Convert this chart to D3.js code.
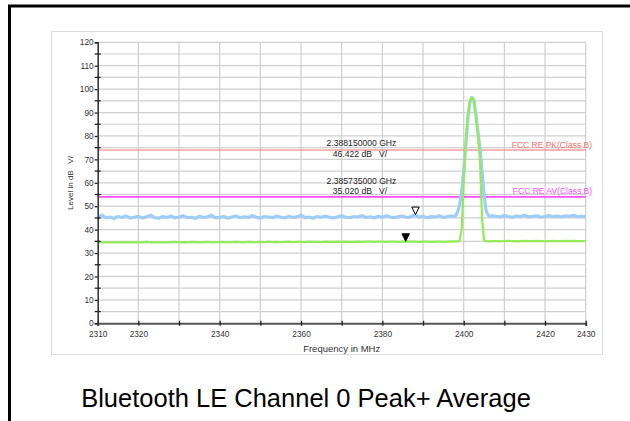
<!DOCTYPE html>
<html><head><meta charset="utf-8">
<script src="https://cdn.jsdelivr.net/npm/d3@7"></script>
<style>
html,body{margin:0;padding:0;background:#fff;}
svg{display:block;font-family:Arial,"Liberation Sans",sans-serif;}
text{white-space:pre;}
</style></head>
<body><svg id="c" width="630" height="421"></svg>
<script>
// ---- data ----
const freqLow = d3.range(2310, 2397.5, 1);          // 2310..2397 MHz
const freqPeak = d3.range(2397.5, 2407.5, 0.5);     // 2397.5..2407 MHz
const freqHigh = d3.range(2408, 2431, 1);           // 2408..2430 MHz
const freqs = freqLow.concat(freqPeak, freqHigh);

const peakValues = [
 45.1,46.2,45.0,45.4,44.8,45.6,45.2,45.9,44.9,45.3,
 45.7,45.0,45.5,46.2,45.1,44.9,45.6,45.2,45.8,45.0,
 45.4,45.9,45.1,45.3,44.8,45.7,45.2,45.5,46.1,45.0,
 45.3,45.6,44.9,45.4,45.8,45.1,45.5,45.2,46.0,45.3,
 44.9,45.6,45.4,45.1,45.8,45.3,45.0,45.7,45.2,45.5,
 46.2,45.1,45.4,44.9,45.6,45.3,45.8,45.2,45.0,45.5,
 45.9,45.3,45.1,45.6,45.4,46.0,45.2,45.5,45.0,45.7,
 45.3,45.9,45.4,45.1,45.6,45.8,45.2,45.5,46.4,45.3,
 45.7,45.1,45.6,45.4,45.9,45.2,45.6,45.8,
 45.6,46.0,47.5,50.5,56,65,76,87,94,96.5,95.5,89,82,75,65,55,48,46.2,45.6,45.9,
 45.7,45.4,46.0,45.6,45.3,45.8,45.5,46.1,45.4,45.7,45.9,45.3,45.6,46.0,45.5,45.8,45.4,45.9,45.6,46.1,45.5,45.7,45.6
];
const avgValues = [
 34.6,34.7,34.5,34.6,34.7,34.6,34.5,34.7,34.6,34.6,
 34.7,34.6,34.8,34.6,34.7,34.5,34.7,34.6,34.7,34.8,
 34.6,34.7,34.6,34.8,34.7,34.6,34.7,34.8,34.6,34.7,
 34.7,34.8,34.6,34.7,34.8,34.7,34.6,34.8,34.7,34.7,
 34.8,34.7,34.9,34.7,34.8,34.7,34.8,34.9,34.7,34.8,
 34.8,34.7,34.9,34.8,34.8,34.7,34.9,34.8,34.8,34.9,
 34.8,34.9,34.8,34.8,34.9,34.8,34.9,34.9,34.8,34.9,
 34.9,34.8,34.9,34.9,34.8,34.9,35.0,34.9,34.9,34.8,
 34.9,34.9,34.8,34.9,34.9,34.8,34.9,35.0,
 34.9,35.0,35.0,35.3,40,60,77,89,95,96.5,95,88,80,70,45,35.5,35.1,35.0,35.0,35.1,
 35.1,35.0,35.1,35.2,35.1,35.0,35.1,35.2,35.1,35.1,35.2,35.1,35.0,35.1,35.2,35.1,35.1,35.2,35.1,35.2,35.1,35.1,35.2
];
const xTickValues = d3.range(2310, 2431, 10);
const xTickLabels = [2310, 2320, 2340, 2360, 2380, 2400, 2420, 2430];
const yTickValues = d3.range(0, 121, 10);
const yMinorValues = d3.range(5, 120, 10);
const limitNames = ["FCC RE PK(Class B)", "FCC RE AV(Class B)"];
const limitValues = [74, 54];
const markerFreqs = [2388.15, 2385.735];
const markerLevels = [46.422, 35.020];
const markerTextFreq = ["2.388150000 GHz", "2.385735000 GHz"];
const markerTextLevel = ["46.422 dB   V/", "35.020 dB   V/"];
const xTitle = "Frequency in MHz";
const yTitle = "Level in dB   V/";
const chartTitle = "Bluetooth LE Channel 0 Peak+ Average";

// ---- drawing ----
const svg = d3.select("#c");
const x = d3.scaleLinear().domain([2310, 2430]).range([97.7, 585.7]);
const y = d3.scaleLinear().domain([0, 120]).range([323.3, 42.3]);

// outer frame (left and top edges visible)
svg.append("path").attr("d", "M9.5,421 L9.5,6 L630,6").attr("fill","none").attr("stroke","#000").attr("stroke-width",3);

// panel
svg.append("rect").attr("x",51.5).attr("y",31.5).attr("width",551).attr("height",323)
  .attr("fill","#fff").attr("stroke","#dcdcdc").attr("stroke-width",1);

// grid
const g = svg.append("g");
g.selectAll("line.hg").data(d3.range(5, 121, 5)).join("line")
  .attr("x1", x(2310)).attr("x2", x(2430)).attr("y1", d=>y(d)).attr("y2", d=>y(d))
  .attr("stroke","#cfcfcf").attr("stroke-width",1.2);
g.selectAll("line.vg").data(xTickValues.slice(1)).join("line")
  .attr("x1", d=>x(d)).attr("x2", d=>x(d)).attr("y1", y(0)).attr("y2", y(120))
  .attr("stroke","#cfcfcf").attr("stroke-width",1.2);

// limit lines
const limColors = ["#ff6f6f", "#ff4dff"];
limitValues.forEach((v,i)=>{
  svg.append("line").attr("x1", x(2310)).attr("x2", x(2430)).attr("y1", y(v)).attr("y2", y(v))
    .attr("stroke", limColors[i]).attr("stroke-width", i===0?1.2:1.6);
  svg.append("text").attr("x", 592).attr("y", y(v)-2.5).attr("text-anchor","end")
    .attr("font-size", 8.5).attr("fill", limColors[i]).text(limitNames[i]);
});

// traces
const line = d3.line().x((d,i)=>x(freqs[i])).y(d=>y(d));
svg.append("path").datum(peakValues).attr("d", line).attr("fill","none")
  .attr("stroke","#9fcdfb").attr("stroke-width",3.2).attr("stroke-linejoin","round");
svg.append("path").datum(avgValues).attr("d", line).attr("fill","none")
  .attr("stroke","#93ec57").attr("stroke-width",2.2).attr("stroke-linejoin","round");

// axes
const yAxis = d3.axisLeft(y).tickValues(yTickValues).tickSize(3).tickPadding(1).tickFormat(d3.format("d"));
const ya = svg.append("g").attr("transform",`translate(${x(2310)},0)`).call(yAxis);
ya.select(".domain").attr("stroke","#3a3a3a").attr("stroke-width",1.6);
ya.selectAll(".tick line").attr("stroke","#222").attr("stroke-width",1.3);
ya.selectAll(".tick text").attr("font-size",8.3).attr("fill","#333").attr("font-family","Arial,'Liberation Sans',sans-serif");
svg.selectAll("line.ymin").data(yMinorValues).join("line")
  .attr("x1", x(2310)-3).attr("x2", x(2310)+3).attr("y1", d=>y(d)).attr("y2", d=>y(d))
  .attr("stroke","#222").attr("stroke-width",1.3);

const xAxis = d3.axisBottom(x).tickValues(xTickValues).tickSize(2.5).tickPadding(5)
  .tickFormat(d=> xTickLabels.includes(d) ? d3.format("d")(d) : "");
const xa = svg.append("g").attr("transform",`translate(0,${y(0)})`).call(xAxis);
xa.select(".domain").attr("stroke","#555").attr("stroke-width",2);
xa.selectAll(".tick line").attr("stroke","#222").attr("stroke-width",1.3).attr("y1",-2.5);
xa.selectAll(".tick text").attr("font-size",8.3).attr("fill","#333").attr("font-family","Arial,'Liberation Sans',sans-serif");

// axis titles
svg.append("text").attr("x", (x(2310)+x(2430))/2).attr("y", 351.5).attr("text-anchor","middle")
  .attr("font-size",9.5).attr("fill","#333").text(xTitle);
svg.append("text").attr("transform","translate(73,183) rotate(-90)").attr("text-anchor","middle")
  .attr("font-size",8).attr("fill","#333").text(yTitle);

// marker annotations
markerTextFreq.forEach((t,i)=>{
  const base = i===0 ? 146 : 183.5;
  svg.append("text").attr("x",361.5).attr("y",base).attr("text-anchor","middle")
    .attr("font-size",8.6).attr("fill","#222").text(t);
  svg.append("text").attr("x",360).attr("y",base+10.5).attr("text-anchor","middle")
    .attr("font-size",8.6).attr("fill","#222").text(markerTextLevel[i]);
});

// markers (triangles, tip on trace)
markerFreqs.forEach((f,i)=>{
  const cx = x(f), cy = y(markerLevels[i]);
  svg.append("path").attr("d", `M${cx-3.7},${cy-7.5} L${cx+3.7},${cy-7.5} L${cx},${cy} Z`)
    .attr("fill", i===0 ? "#fff" : "#000").attr("stroke","#000").attr("stroke-width",1);
});

// chart title
svg.append("text").attr("x",306).attr("y",407).attr("text-anchor","middle")
  .attr("font-size",25.5).attr("fill","#000").text(chartTitle);
</script></body></html>
